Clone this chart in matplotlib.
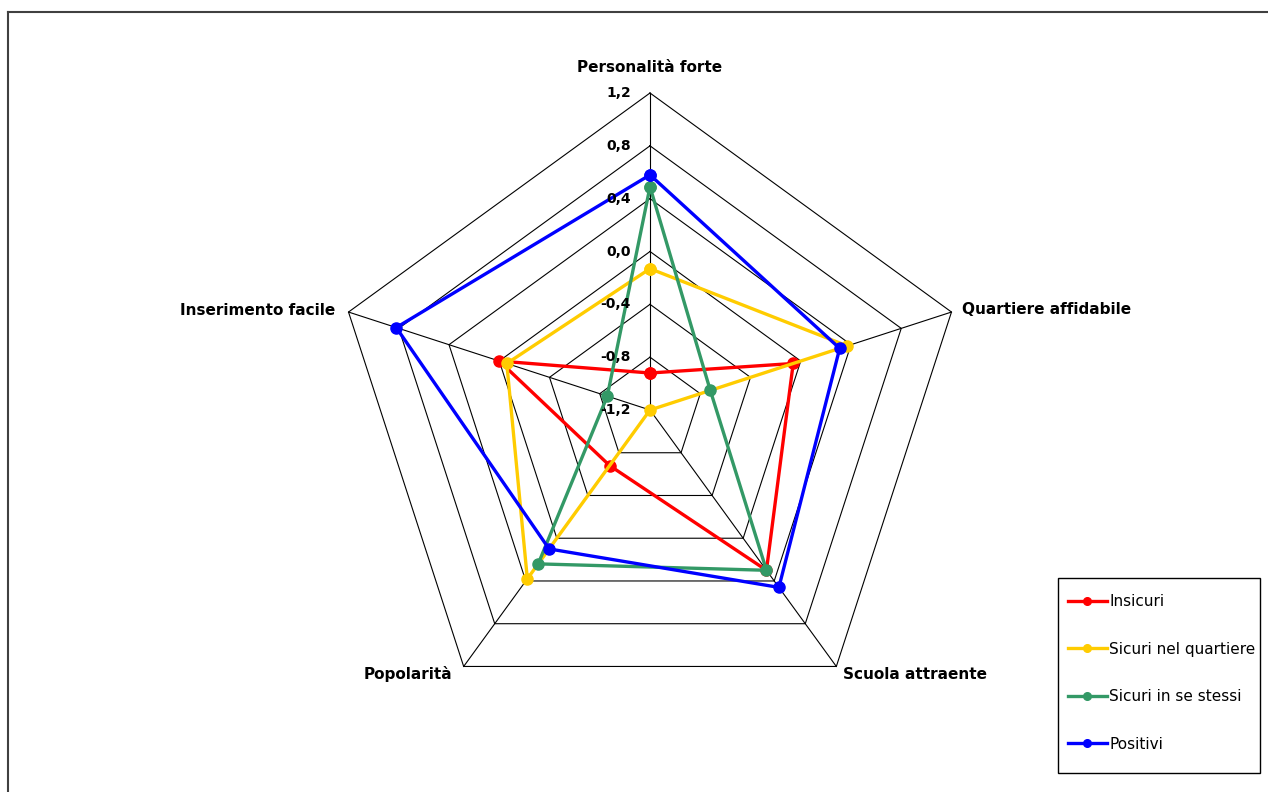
import numpy as np
import matplotlib
matplotlib.use("Agg")
import matplotlib.pyplot as plt
from matplotlib.lines import Line2D
from matplotlib.patches import Rectangle

categorie = ["Personalità forte", "Quartiere affidabile", "Scuola attraente",
             "Popolarità", "Inserimento facile"]
insicuri = [-0.92, -0.06, 0.30, -0.68, 0.00]
sicuri_quartiere = [-0.13, 0.37, -1.20, 0.38, -0.06]
sicuri_se_stessi = [0.49, -0.72, 0.30, 0.24, -0.86]
positivi = [0.58, 0.31, 0.46, 0.10, 0.82]
serie = ["Insicuri", "Sicuri nel quartiere", "Sicuri in se stessi", "Positivi"]
colori = ["#FF0000", "#FFCC00", "#339966", "#0000FF"]
livelli = [-1.2, -0.8, -0.4, 0.0, 0.4, 0.8, 1.2]
etichette = ["-1,2", "-0,8", "-0,4", "0,0", "0,4", "0,8", "1,2"]

W, H = 1268, 792
fig = plt.figure(figsize=(W/100, H/100), dpi=100)
ax = fig.add_axes([333/W, 65/H, 634/W, 634/H], projection="polar")
ax.set_theta_offset(np.pi/2)
ax.set_theta_direction(-1)
ax.set_ylim(-1.2, 1.2)
ax.set_xticks([])
ax.set_yticks([])
ax.grid(False)
ax.spines["polar"].set_visible(False)
ax.patch.set_visible(False)

angoli = np.linspace(0, 2*np.pi, len(categorie), endpoint=False)
chiuso = np.append(angoli, angoli[0])

# griglia a pentagoni
for lv in livelli[1:]:
    ax.plot(chiuso, [lv]*len(chiuso), color="black", lw=0.8, clip_on=False, zorder=1)
for a in angoli:
    ax.plot([a, a], [livelli[0], livelli[-1]], color="black", lw=0.8, clip_on=False, zorder=1)

# etichette asse
for lv, t in zip(livelli, etichette):
    ax.annotate(t, xy=(0, lv), xytext=(-19, 0), textcoords="offset pixels",
                ha="right", va="center", fontsize=10, fontweight="bold", zorder=5)

offs = [((0, 25), "center"), ((11, 3), "left"), ((7, -8), "left"),
        ((-11, -8), "right"), ((-13, 2), "right")]
for a, c, (o, ha) in zip(angoli, categorie, offs):
    ax.annotate(c, xy=(a, 1.2), xytext=o, textcoords="offset pixels",
                ha=ha, va="center", fontsize=11, fontweight="bold")

dati = [insicuri, sicuri_quartiere, sicuri_se_stessi, positivi]
for vals, col, nome in zip(dati, colori, serie):
    v = np.append(vals, vals[0])
    ax.plot(chiuso, v, color=col, lw=2.4, marker="o", markersize=8,
            clip_on=False, zorder=3, label=nome)

# legenda con cornice disegnata a parte
fig.add_artist(Rectangle((1058/W, 1 - 773/H), 202/W, 195/H, transform=fig.transFigure,
                         facecolor="white", edgecolor="black", lw=1.0, zorder=4))
maniglie = [Line2D([], [], color=c, lw=2.4, marker="o", markersize=5.5) for c in colori]
leg = fig.legend(maniglie, serie, loc="upper left",
                 bbox_to_anchor=(1068/W, 1 - 594/H), bbox_transform=fig.transFigure,
                 fontsize=11, labelspacing=2.13, handlelength=2.55, handletextpad=0.15,
                 borderpad=0, borderaxespad=0, frameon=False)
leg.set_zorder(5)

# cornice del grafico
fig.add_artist(Line2D([8/W, 8/W], [0, 1 - 12/H], color="#404040", lw=1.5))
fig.add_artist(Line2D([8/W, 1], [1 - 12/H, 1 - 12/H], color="#404040", lw=1.5))

fig.savefig("out.png", dpi=100)
